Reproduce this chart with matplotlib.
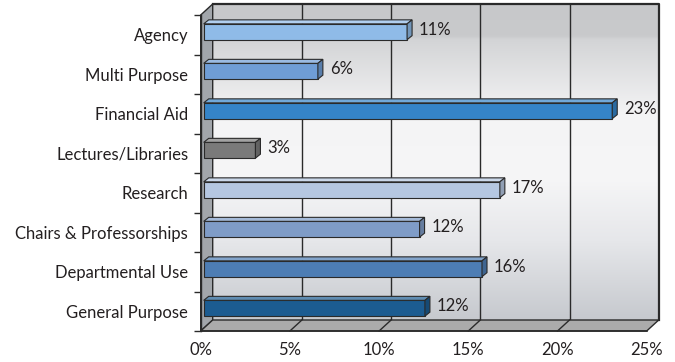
import numpy as np
import matplotlib
matplotlib.use("Agg")
import matplotlib.pyplot as plt
from matplotlib.patches import Polygon
from matplotlib.colors import to_rgb

# data, top to bottom as shown
categories = ["Agency", "Multi Purpose", "Financial Aid", "Lectures/Libraries",
              "Research", "Chairs & Professorships", "Departmental Use", "General Purpose"]
values = [11.4, 6.4, 22.9, 2.9, 16.6, 12.1, 15.6, 12.4]
bar_colors = ["#8fbbe8", "#6f9dd6", "#3584c8", "#7a7a7a",
              "#b5c7e1", "#7f9cc7", "#4d7db4", "#1c5c91"]
xticks = [0, 5, 10, 15, 20, 25]
xticklabels = ["0%", "5%", "10%", "15%", "20%", "25%"]

plt.rcParams["font.family"] = ["Lato", "DejaVu Sans"]
txt = "#231f20"
edge = "#2a2a2a"
fs = 12

W, H = 675, 362
fig = plt.figure(figsize=(W / 100, H / 100), dpi=100)
ax_l, ax_r, ax_t, ax_b = 200.7, 646.7, 15, 331
ax = fig.add_axes([ax_l / W, (H - ax_b) / H, (ax_r - ax_l) / W, (ax_b - ax_t) / H])
ax.set_xlim(0, 25)
ax.set_ylim(7.5, -0.5)
ax.patch.set_visible(False)

sx = (ax_r - ax_l) / 25
sy = (ax_b - ax_t) / 8


def px(dx, dy):
    # pixel offset (right, up) -> data offset
    return dx / sx, -dy / sy


wdx, wdy = px(12, 11)   # wall depth
bdx, bdy = px(3, 3)     # bar front plane
ddx, ddy = px(5, 4)     # bar depth

# back wall gradient
stops = [0.0, 0.1, 0.11, 0.35, 0.55, 0.75, 1.0]
cols = np.array([to_rgb(c) for c in
                 ["#c7c8ca", "#c9cacc", "#d3d4d6", "#f4f4f5", "#f6f6f7", "#e6e7ea", "#c6c9ce"]])
t = np.linspace(0, 1, 256)
grad = np.stack([np.interp(t, stops, cols[:, k]) for k in range(3)], axis=1)
grad = np.repeat(grad[:, None, :], 2, axis=1)
ax.imshow(grad, extent=(wdx, 25 + wdx, 7.5 + wdy, -0.5 + wdy), aspect="auto",
          origin="upper", zorder=0, clip_on=False, interpolation="bilinear")
ax.set_xlim(0, 25)
ax.set_ylim(7.5, -0.5)

# back wall grid + outline
for x in xticks[1:-1]:
    ax.plot([x + wdx, x + wdx], [7.5 + wdy, -0.5 + wdy], color=edge, lw=1, zorder=0.5, clip_on=False)
    ax.plot([x, x + wdx], [7.5, 7.5 + wdy], color=edge, lw=1, zorder=1.2, clip_on=False)
ax.plot([wdx, 25 + wdx, 25 + wdx], [-0.5 + wdy, -0.5 + wdy, 7.5 + wdy],
        color=edge, lw=1.6, zorder=0.5, clip_on=False)

# left wall
ax.add_patch(Polygon([(0, -0.5), (0, 7.5), (wdx, 7.5 + wdy), (wdx, -0.5 + wdy)],
                     closed=True, facecolor="#a2a6ab", edgecolor=edge, lw=1, zorder=1, clip_on=False))
# floor
ax.add_patch(Polygon([(0, 7.5), (25, 7.5), (25 + wdx, 7.5 + wdy), (wdx, 7.5 + wdy)],
                     closed=True, facecolor="#ababab", edgecolor=edge, lw=1, zorder=1.1, clip_on=False))
ax.plot([0, 25], [7.5, 7.5], color=edge, lw=1.2, zorder=1.3, clip_on=False)

# bars
y = np.arange(len(categories))
bh = 0.4
ax.barh(y + bdy, values, left=bdx, height=bh, color=bar_colors, edgecolor=edge, lw=0.8, zorder=3)
for yi, v, c in zip(y, values, bar_colors):
    rgb = np.array(to_rgb(c))
    top = rgb + (1 - rgb) * 0.3
    side = rgb * 0.8
    y0 = yi + bdy - bh / 2
    y1 = yi + bdy + bh / 2
    x0, x1 = bdx, bdx + v
    ax.add_patch(Polygon([(x0, y0), (x0 + ddx, y0 + ddy), (x1 + ddx, y0 + ddy), (x1, y0)],
                         closed=True, facecolor=top, edgecolor=edge, lw=0.8, zorder=3, clip_on=False))
    ax.add_patch(Polygon([(x1, y1), (x1, y0), (x1 + ddx, y0 + ddy), (x1 + ddx, y1 + ddy)],
                         closed=True, facecolor=side, edgecolor=edge, lw=0.8, zorder=3, clip_on=False))
    ax.text(x1 + px(12, 0)[0], yi + bdy + ddy / 2, f"{v:.0f}%", va="center", ha="left",
            fontsize=fs, color=txt, zorder=4)

# axes
for s in ["top", "right", "bottom"]:
    ax.spines[s].set_visible(False)
ax.spines["left"].set_color(edge)
ax.spines["left"].set_linewidth(1)
ax.spines["left"].set_zorder(1.3)
ax.set_yticks(y)
ax.set_yticklabels(categories, fontsize=fs, color=txt)
ax.set_yticks(np.arange(-0.5, 8, 1), minor=True)
ax.tick_params(axis="y", which="major", length=0, pad=9)
ax.tick_params(axis="y", which="minor", length=5, width=1, color=edge)
ax.set_xticks(xticks)
ax.set_xticklabels(xticklabels, fontsize=fs, color=txt)
ax.tick_params(axis="x", length=0, pad=8)

fig.savefig("out.png", dpi=100)
